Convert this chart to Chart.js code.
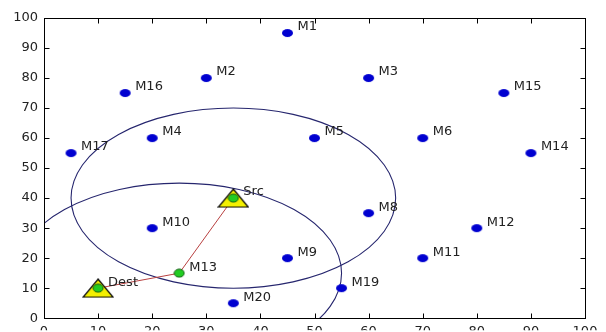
<!DOCTYPE html>
<html>
<head>
<meta charset="utf-8">
<script src="https://cdn.jsdelivr.net/npm/chart.js@4.4.0/dist/chart.umd.min.js"></script>
<style>
  html, body { margin: 0; padding: 0; background: #fff; }
  #wrap { width: 606px; height: 332px; }
</style>
</head>
<body>
<div id="wrap"><canvas id="chart"></canvas></div>
<script>
// mobile nodes
const nodeNames = ['M1', 'M2', 'M3', 'M4', 'M5', 'M6', 'M8', 'M9', 'M10', 'M11', 'M12', 'M14', 'M15', 'M16', 'M17', 'M19', 'M20'];
const nodeX = [45, 30, 60, 20, 50, 70, 60, 45, 20, 70, 80, 90, 85, 15, 5, 55, 35];
const nodeY = [95, 80, 80, 60, 60, 60, 35, 20, 30, 20, 30, 55, 75, 75, 55, 10, 5];

// route from source to destination
const pathNames = ['Src', 'M13', 'Dest'];
const pathX = [35, 25, 10];
const pathY = [40, 15, 10];

// endpoints marked with triangles
const endNames = ['Src', 'Dest'];
const endX = [35, 10];
const endY = [40, 10];

// transmission ranges (centre + radius, data units)
const rangeX = [35, 25];
const rangeY = [40, 15];
const rangeR = [30, 30];

const tickValues = [0, 10, 20, 30, 40, 50, 60, 70, 80, 90, 100];

const FONT = 'DejaVu Sans';

function makeEllipse(w, h, fill, stroke) {
    const c = document.createElement('canvas');
    c.width = w + 2; c.height = h + 2;
    const g = c.getContext('2d');
    g.beginPath();
    g.ellipse(c.width / 2, c.height / 2, w / 2, h / 2, 0, 0, Math.PI * 2);
    g.fillStyle = fill;
    g.fill();
    if (stroke) { g.strokeStyle = stroke; g.lineWidth = 1; g.stroke(); }
    return c;
}

function makeTriangle(w, h) {
    const c = document.createElement('canvas');
    c.width = w + 2; c.height = h + 2;
    const g = c.getContext('2d');
    g.beginPath();
    g.moveTo(c.width / 2, 1);
    g.lineTo(w + 1, h + 1);
    g.lineTo(1, h + 1);
    g.closePath();
    g.fillStyle = '#f4f000';
    g.fill();
    g.strokeStyle = '#000';
    g.lineWidth = 1.2;
    g.stroke();
    return c;
}

const blueDot = makeEllipse(11, 8, '#0000d0');
const greenDot = makeEllipse(10, 8, '#22cc22', '#106010');
const triangle = makeTriangle(30, 18);

function pts(xs, ys) {
    return xs.map((x, i) => ({ x: x, y: ys[i] }));
}

// ranges drawn as ellipses through the scales (axes are not equal)
const rangePlugin = {
    id: 'ranges',
    beforeDatasetsDraw(chart) {
        const { ctx, chartArea, scales } = chart;
        ctx.save();
        ctx.beginPath();
        ctx.rect(chartArea.left, chartArea.top, chartArea.right - chartArea.left, chartArea.bottom - chartArea.top);
        ctx.clip();
        ctx.strokeStyle = '#26266e';
        ctx.lineWidth = 1.1;
        for (let i = 0; i < rangeX.length; i++) {
            const cx = scales.x.getPixelForValue(rangeX[i]);
            const cy = scales.y.getPixelForValue(rangeY[i]);
            const rx = scales.x.getPixelForValue(rangeX[i] + rangeR[i]) - cx;
            const ry = cy - scales.y.getPixelForValue(rangeY[i] + rangeR[i]);
            ctx.beginPath();
            ctx.ellipse(cx, cy, rx, ry, 0, 0, Math.PI * 2);
            ctx.stroke();
        }
        ctx.restore();
    }
};

const labelPlugin = {
    id: 'labels',
    afterDatasetsDraw(chart) {
        const { ctx, scales } = chart;
        ctx.save();
        ctx.font = '13px "' + FONT + '"';
        ctx.fillStyle = '#222';
        ctx.textAlign = 'left';
        ctx.textBaseline = 'middle';
        const names = nodeNames.concat(pathNames);
        const xs = nodeX.concat(pathX);
        const ys = nodeY.concat(pathY);
        names.forEach((n, i) => {
            const px = scales.x.getPixelForValue(xs[i]);
            const py = scales.y.getPixelForValue(ys[i]);
            ctx.fillText(n, px + 10, py - 6);
        });
        ctx.restore();
    }
};

// matlab style box with inward ticks on all sides
const framePlugin = {
    id: 'frame',
    afterDraw(chart) {
        const { ctx, chartArea: a, scales } = chart;
        const L = Math.round(a.left) + 0.5, R = Math.round(a.right) + 0.5;
        const T = Math.round(a.top) + 0.5, B = Math.round(a.bottom) + 0.5;
        ctx.save();
        ctx.strokeStyle = '#000';
        ctx.lineWidth = 1;
        ctx.strokeRect(L, T, R - L, B - T);
        ctx.beginPath();
        tickValues.forEach(v => {
            const x = Math.round(scales.x.getPixelForValue(v)) + 0.5;
            ctx.moveTo(x, B); ctx.lineTo(x, B - 5);
            ctx.moveTo(x, T); ctx.lineTo(x, T + 5);
            const y = Math.round(scales.y.getPixelForValue(v)) + 0.5;
            ctx.moveTo(L, y); ctx.lineTo(L + 5, y);
            ctx.moveTo(R, y); ctx.lineTo(R - 5, y);
        });
        ctx.stroke();
        ctx.restore();
    }
};

new Chart(document.getElementById('chart'), {
    type: 'scatter',
    data: {
        datasets: [
            {
                label: 'hops',
                data: pts(pathX, pathY),
                pointStyle: greenDot,
                order: 0
            },
            {
                label: 'ends',
                data: pts(endX, endY),
                pointStyle: triangle,
                order: 1
            },
            {
                label: 'nodes',
                data: pts(nodeX, nodeY),
                pointStyle: blueDot,
                order: 2
            },
            {
                label: 'route',
                data: pts(pathX, pathY),
                showLine: true,
                borderColor: '#b84040',
                borderWidth: 1,
                pointRadius: 0,
                order: 3
            }
        ]
    },
    options: {
        responsive: true,
        maintainAspectRatio: false,
        animation: false,
        layout: { padding: { top: 18, right: 21, left: 0, bottom: 0 } },
        plugins: {
            legend: { display: false },
            tooltip: { enabled: false }
        },
        scales: {
            x: {
                type: 'linear',
                min: 0,
                max: 100,
                afterFit: s => { s.height = 12; },
                afterBuildTicks: s => { s.ticks = tickValues.map(v => ({ value: v })); },
                grid: { display: false, drawTicks: false },
                border: { display: false },
                ticks: { padding: 6, color: '#222', font: { family: FONT, size: 13 }, maxRotation: 0 }
            },
            y: {
                type: 'linear',
                min: 0,
                max: 100,
                afterFit: s => { s.width = 44; },
                afterBuildTicks: s => { s.ticks = tickValues.map(v => ({ value: v })); },
                grid: { display: false, drawTicks: false },
                border: { display: false },
                ticks: { padding: 6, color: '#222', font: { family: FONT, size: 13 } }
            }
        }
    },
    plugins: [rangePlugin, labelPlugin, framePlugin]
});
</script>
</body>
</html>
